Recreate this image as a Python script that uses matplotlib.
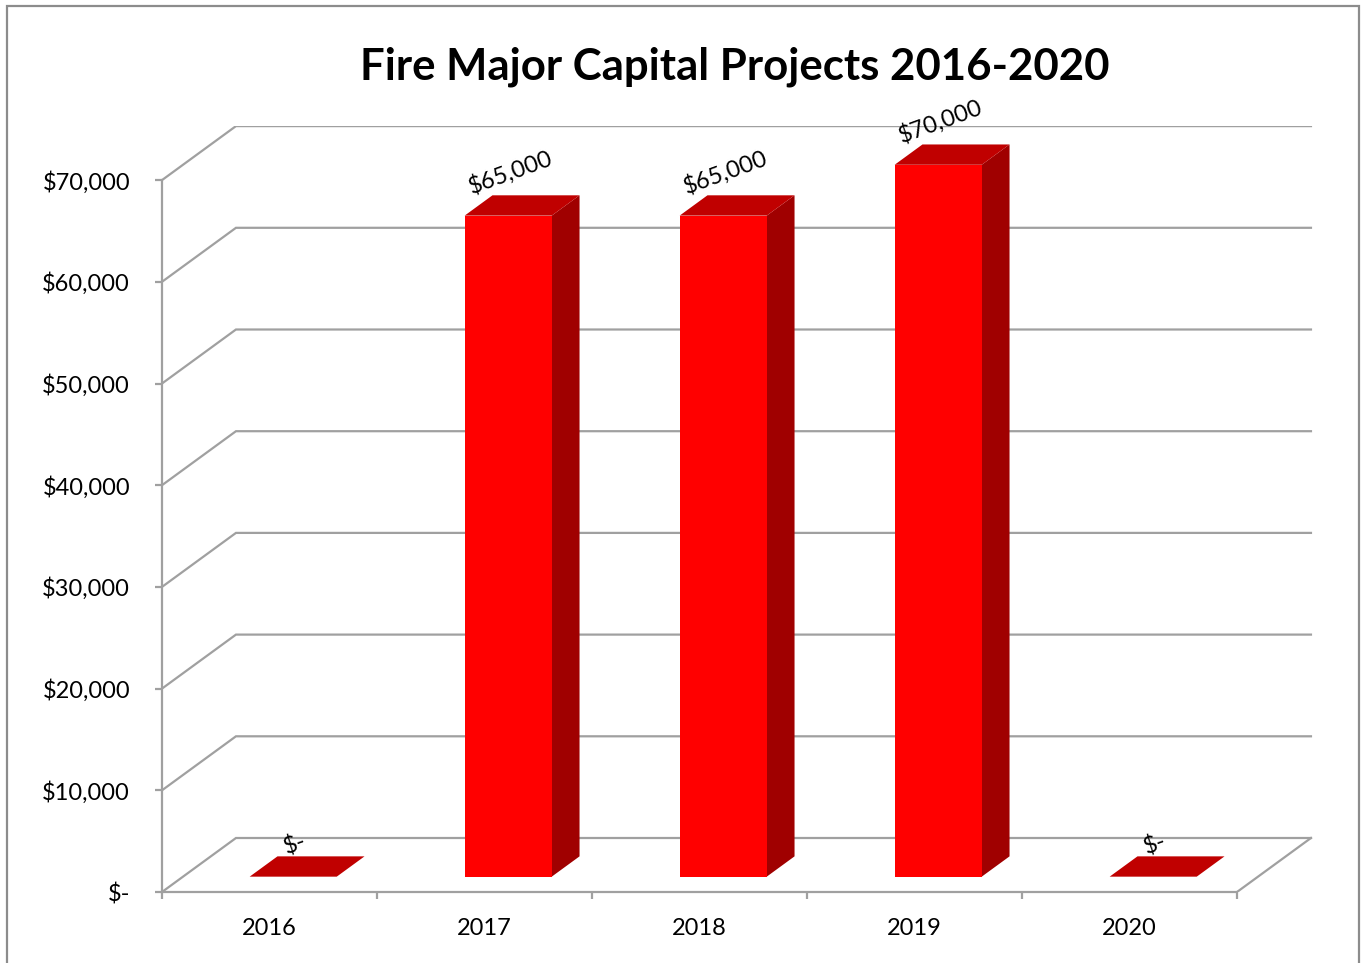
import matplotlib
matplotlib.use("Agg")
import matplotlib.pyplot as plt
from matplotlib.patches import Polygon, Rectangle
from matplotlib.ticker import FixedLocator, FuncFormatter

plt.rcParams['font.family'] = ['Lato', 'DejaVu Sans']

# data
years = ['2016', '2017', '2018', '2019', '2020']
amounts = [0, 65000, 65000, 70000, 0]
yticks = [0, 10000, 20000, 30000, 40000, 50000, 60000, 70000]

# fake 3d: offset of the back wall, in data units
DX = 0.344
DY = 5310
grid_col = '#a0a0a0'

fig = plt.figure(figsize=(13.61, 9.63), dpi=100)
ax = fig.add_axes([162/1361, 71/963, 1151/1361, 766/963])
ax.set_xlim(0, 1151/215)
ax.set_ylim(0, 75320)

# walls and gridlines
for t in yticks:
    ax.plot([0, DX, len(years) + DX], [t, t + DY, t + DY], color=grid_col, lw=1.6, zorder=1,
            solid_joinstyle='miter')
ax.plot([len(years), len(years) + DX], [0, DY], color=grid_col, lw=1.6, zorder=1)

def fmt(v):
    if v == 0:
        return '$-'
    return '${:,.0f}'.format(v)

# bars
d0, d1 = 0.284, 0.66
for i, v in enumerate(amounts):
    x0 = i + 0.31
    x1 = i + 0.715
    ax_, ay = d0*DX, d0*DY
    bx, by = d1*DX, d1*DY
    front = [(x0+ax_, ay), (x1+ax_, ay), (x1+ax_, v+ay), (x0+ax_, v+ay)]
    top = [(x0+ax_, v+ay), (x1+ax_, v+ay), (x1+bx, v+by), (x0+bx, v+by)]
    side = [(x1+ax_, ay), (x1+bx, by), (x1+bx, v+by), (x1+ax_, v+ay)]
    ax.add_patch(Polygon(side, closed=True, fc='#a00000', ec='none', zorder=3))
    ax.add_patch(Polygon(front, closed=True, fc='#ff0000', ec='none', zorder=3))
    ax.add_patch(Polygon(top, closed=True, fc='#c00000', ec='none', zorder=3))
    ax.annotate(fmt(v), xy=((x0+x1)/2 + ax_, v + ay), xytext=(1.5, 13),
                textcoords='offset points', ha='center', va='bottom',
                rotation=20, fontsize=17, zorder=4)

# axes
for s in ['top', 'right']:
    ax.spines[s].set_visible(False)
ax.spines['left'].set_bounds(0, 70000)
ax.spines['bottom'].set_bounds(0, len(years))
for s in ['left', 'bottom']:
    ax.spines[s].set_color(grid_col)
    ax.spines[s].set_linewidth(1.6)

ax.set_yticks(yticks)
ax.yaxis.set_major_formatter(FuncFormatter(lambda v, p: fmt(v)))
ax.tick_params(axis='y', direction='out', length=5, width=1.6, color=grid_col,
               labelsize=17, pad=18)

ax.xaxis.set_major_locator(FixedLocator(range(len(years) + 1)))
ax.xaxis.set_minor_locator(FixedLocator([i + 0.5 for i in range(len(years))]))
ax.set_xticklabels([], minor=False)
ax.set_xticklabels(years, minor=True)
ax.tick_params(axis='x', which='major', direction='out', length=5, width=1.6, color=grid_col)
ax.tick_params(axis='x', which='minor', length=0, labelsize=17, pad=19)

fig.text(0.540, 0.931, 'Fire Major Capital Projects 2016-2020', ha='center', va='center',
         fontsize=31.5, fontweight='bold')

# chart border
fig.patches.append(Rectangle((7/1361, -0.02), 1352/1361, 1 - 6/963 + 0.02,
                             transform=fig.transFigure, fill=False, ec='#8c8c8c', lw=1.6))

fig.savefig('out.png', dpi=100)
